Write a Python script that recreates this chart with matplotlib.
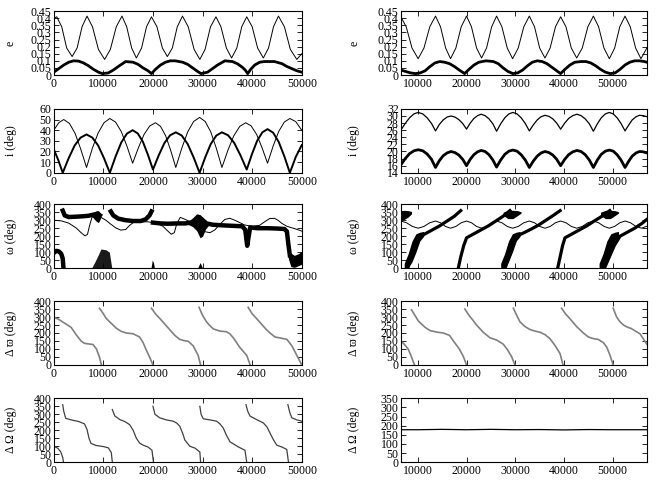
import numpy as np
import matplotlib.pyplot as plt
from matplotlib.ticker import FuncFormatter

nan = np.nan

# ---- row 1 : eccentricity ----
e1_thin_t = [0, 600, 1600, 2600, 3700, 4700, 5700, 6700, 7800, 9000, 10250, 11400, 12600, 13750, 14700,
             15700, 16650, 17700, 18700, 19700, 20800, 21900, 22900, 23900, 24900, 25950, 27100, 28300,
             29450, 30500, 31600, 32700, 33700, 34800, 35850, 36900, 37900, 38900, 40000, 41100, 42250,
             43300, 44300, 45300, 46500, 47700, 49000, 50000]
e1_thin = [0.40, 0.41, 0.34, 0.19, 0.13, 0.19, 0.34, 0.415, 0.34, 0.18, 0.11, 0.18, 0.34, 0.415, 0.34,
           0.19, 0.12, 0.19, 0.34, 0.41, 0.34, 0.19, 0.13, 0.19, 0.34, 0.415, 0.34, 0.18, 0.11, 0.18,
           0.34, 0.41, 0.34, 0.19, 0.12, 0.19, 0.34, 0.41, 0.34, 0.19, 0.12, 0.19, 0.34, 0.415, 0.34,
           0.18, 0.11, 0.15]
e1_thick_t = [0, 1000, 2000, 3000, 4000, 5000, 6000, 7000, 8000, 9000, 9800, 11000, 12000, 13000, 14500,
              16000, 17000, 18000, 19000, 19700, 20500, 21500, 22500, 23500, 24500, 26000, 27000, 28000,
              29000, 29700, 31000, 32000, 33000, 34500, 36000, 37000, 38000, 38600, 39100, 39700, 40500,
              41500, 42500, 44500, 46000, 47000, 48000, 49000, 50000]
e1_thick = [0.02, 0.045, 0.07, 0.09, 0.1, 0.098, 0.085, 0.065, 0.04, 0.02, 0.01, 0.015, 0.035, 0.06, 0.095,
            0.09, 0.075, 0.05, 0.03, 0.01, 0.04, 0.07, 0.09, 0.1, 0.1, 0.09, 0.075, 0.05, 0.025, 0.01,
            0.02, 0.045, 0.07, 0.1, 0.095, 0.08, 0.055, 0.035, 0.01, 0.04, 0.07, 0.09, 0.095, 0.095,
            0.08, 0.06, 0.045, 0.03, 0.02]

e2_thin_t = [6500, 7600, 8800, 10060, 11250, 12450, 13620, 14650, 15700, 16710, 17800, 18900, 19990, 21000,
             22050, 23080, 24100, 25150, 26160, 27250, 28350, 29450, 30600, 31750, 32880, 33950, 35000,
             36090, 37150, 38250, 39310, 40400, 41500, 42600, 43750, 44900, 46030, 47100, 48200, 49310,
             50400, 51450, 52530, 53600, 54700, 55800, 57000]
e2_thin = [0.41, 0.34, 0.19, 0.115, 0.19, 0.34, 0.415, 0.34, 0.19, 0.115, 0.19, 0.34, 0.415, 0.34, 0.19,
           0.12, 0.19, 0.34, 0.415, 0.34, 0.19, 0.115, 0.19, 0.34, 0.415, 0.34, 0.19, 0.12, 0.19, 0.34,
           0.41, 0.34, 0.19, 0.12, 0.19, 0.34, 0.415, 0.34, 0.19, 0.115, 0.19, 0.34, 0.415, 0.34, 0.19,
           0.115, 0.19]
e2_thick_t = [6500, 7500, 8500, 9500, 10500, 11500, 12500, 13500, 14500, 15500, 16500, 17500, 18500, 19600,
              20500, 21500, 22500, 24000, 25500, 26500, 27500, 28500, 29500, 30500, 31500, 32500, 33500,
              34500, 35500, 36500, 37500, 38500, 39300, 40200, 41200, 42200, 43500, 44500, 45500, 46500,
              47500, 48500, 49500, 50500, 51500, 52500, 53500, 54500, 55500, 56500, 57000]
e2_thick = [0.035, 0.025, 0.015, 0.01, 0.015, 0.03, 0.06, 0.085, 0.095, 0.09, 0.08, 0.06, 0.035, 0.01,
            0.04, 0.07, 0.09, 0.1, 0.095, 0.08, 0.05, 0.025, 0.01, 0.015, 0.035, 0.065, 0.09, 0.1, 0.095,
            0.08, 0.055, 0.03, 0.01, 0.04, 0.07, 0.09, 0.095, 0.095, 0.085, 0.065, 0.04, 0.02, 0.01,
            0.015, 0.04, 0.07, 0.09, 0.1, 0.1, 0.095, 0.09]

# ---- row 2 : inclination ----
i1_thin_t = [0, 1000, 2000, 3150, 4300, 5450, 6600, 7775, 8950, 10125, 11300, 12450, 13600, 14750, 15900,
             17050, 18200, 19350, 20500, 21525, 22550, 23575, 24600, 25800, 27000, 28200, 29400, 30525,
             31650, 32775, 33900, 35100, 36300, 37500, 38700, 39800, 40900, 42000, 43100, 44225, 45350,
             46475, 47600, 48800, 50000]
i1_thin = [40, 47, 50, 46.4, 37, 22, 5, 23, 37.5, 47, 51, 47.6, 38.8, 25, 9, 23.4, 36, 44, 47, 43.6, 34.8,
           21, 5, 23, 38.4, 48.2, 52, 48.2, 38.4, 23, 5, 21, 34.8, 43.6, 47, 44, 36, 23.4, 9, 25, 38.8,
           47.6, 51, 48, 40]
i1_thick_t = [0, 900, 1800, 3000, 4200, 5400, 6600, 7775, 8950, 10125, 11300, 12450, 13600, 14750, 15900,
              16925, 17950, 18975, 20000, 21150, 22300, 23450, 24600, 25800, 27000, 28200, 29400, 30525,
              31650, 32775, 33900, 35150, 36400, 37650, 38900, 39950, 41000, 42050, 43100, 44225, 45350,
              46475, 47600, 48800, 50000]
i1_thick = [22, 12, 0, 13.7, 25.6, 33, 36, 33, 25.6, 13.7, 0, 15.2, 28.4, 36.8, 40, 37, 29.3, 17, 3, 16.3,
            27.9, 35.2, 38, 35, 27, 14.4, 0, 14.4, 27, 35, 38, 35.2, 27.9, 16.3, 3, 17.4, 30, 38, 41,
            37.7, 29, 15.6, 0, 15, 26]

i2_t = [6500, 7400, 8300, 9200, 10060, 11000, 11900, 12800, 13620, 14400, 15200, 16000, 16800, 17600, 18400,
        19200, 19990, 20750, 21500, 22250, 23000, 23800, 24600, 25400, 26160, 27000, 27850, 28700, 29500,
        30350, 31200, 32050, 32880, 33700, 34500, 35300, 36100, 36900, 37700, 38500, 39310, 40150, 40950,
        41800, 42650, 43500, 44350, 45200, 46030, 46850, 47650, 48500, 49300, 50100, 50900, 51700, 52530,
        53300, 54000, 54800, 55500, 56300, 57000]
i2_thin = [26, 27.9, 29.5, 30.6, 31, 30.6, 29.5, 27.9, 25.8, 27.6, 28.9, 29.7, 30, 29.7, 29, 27.9, 26.3,
           28, 29.3, 30.1, 30.5, 30.1, 29.2, 27.8, 25.7, 27.8, 29.5, 30.6, 31, 30.6, 29.5, 27.9, 25.8,
           27.5, 28.9, 29.8, 30.2, 29.9, 29.2, 28, 26.3, 28, 29.3, 30.1, 30.5, 30.1, 29.2, 27.8, 25.7,
           27.8, 29.5, 30.6, 31, 30.6, 29.5, 27.9, 25.8, 27.5, 28.9, 29.8, 30.2, 30.1, 29.8]
i2_thick = [16.2, 18, 19.4, 20.2, 20.5, 20.2, 19.3, 17.8, 15.5, 17.4, 18.8, 19.6, 20, 19.7, 19, 17.8, 16,
            17.8, 19.1, 19.9, 20.3, 20, 19.1, 17.6, 15.6, 17.6, 19.2, 20.1, 20.4, 20.1, 19.1, 17.6, 15.5,
            17.3, 18.7, 19.6, 20, 19.7, 19, 17.8, 16, 17.8, 19.1, 19.9, 20.3, 20, 19.1, 17.6, 15.5,
            17.6, 19.2, 20.1, 20.4, 20.1, 19.1, 17.6, 15.5, 17.3, 18.7, 19.6, 20, 19.9, 19.6]

# ---- row 3 : argument of pericentre ----
w1_thin_t = [0, 1500, 3000, 4500, 5500, 6300, 6800, 7200, 7700, 8500, 9500, 10500, 11500, 12500, 13500,
             14500, 15300, 16000, 17000, 19000, 20000, 21000, 22000, 23000, 23700, 24300, 24800, 25500,
             26500, 27500, 28500, 29500, 30500, 31500, 32500, 33500, 34500, 35500, 36500, 37500, 38500,
             40000, 41500, 42500, 43500, 44500, 45200, 46000, 47000, 48500, 50000]
w1_thin = [300, 296, 282, 252, 222, 202, 212, 265, 318, 330, 318, 300, 275, 252, 238, 242, 268, 285, 290,
           290, 285, 278, 262, 232, 212, 222, 278, 318, 305, 290, 272, 250, 228, 222, 240, 275, 305, 312,
           300, 285, 270, 262, 268, 290, 310, 312, 300, 280, 262, 248, 232]
w1_band_t = [0, 500, 1000, 1500, 1800, 1950, nan,
             1800, 2200, 3000, 4500, 6000, 7000, 8000, 8800, 9300, nan,
             11500, 12000, 13000, 14500, 16000, 17500, 18500, 19300, 19700, nan,
             20000, 21500, 23000, 25000, 26500, 27500, 28500, 29300, nan,
             30000, 30800, 32000, 34000, 36000, 38000, 38600, 39000, 39300, 39600,
             41000, 43000, 45000, 46500, 47000, 47300, 47600]
w1_band = [95, 108, 105, 90, 60, 0, nan,
           360, 330, 320, 322, 325, 328, 335, 340, 330, nan,
           355, 330, 310, 300, 295, 295, 305, 330, 355, nan,
           285, 280, 278, 280, 280, 285, 290, 295, nan,
           300, 280, 272, 268, 265, 262, 240, 140, 200, 255,
           250, 250, 248, 245, 230, 150, 80]
w1_cloudA_t, w1_cloudA_lo, w1_cloudA_hi = [7800, 8500, 9000, 9400], [320, 295, 285, 310], [345, 358, 360, 345]
w1_cloudB_t = [7700, 8300, 9000, 9500, 10500, 11200, 11700]
w1_cloudB_hi = [5, 40, 85, 120, 115, 100, 0]
w1_cloudC_t, w1_cloudC_hi = [19600, 19850, 20100, 20300], [0, 50, 35, 0]
w1_cloudD_t = [27000, 28000, 28800, 29500, 30000, 30600, 31200]
w1_cloudD_lo = [275, 260, 235, 190, 200, 245, 268]
w1_cloudD_hi = [290, 315, 340, 335, 320, 300, 282]
w1_cloudE_t, w1_cloudE_hi = [29000, 29500, 30000], [0, 35, 0]
w1_cloudF_t = [47300, 47800, 48500, 49300, 50000]
w1_cloudF_lo = [60, 10, 5, 15, 25]
w1_cloudF_hi = [120, 95, 80, 90, 105]

w2_thin_t = [6500, 7690, 8870, 10060, 11250, 12430, 13620, 14650, 15680, 16710, 17800, 18900, 19990, 21020,
             22050, 23080, 24110, 25130, 26160, 27260, 28350, 29450, 30600, 31740, 32880, 33950, 35020,
             36090, 37160, 38240, 39310, 40410, 41500, 42600, 43740, 44890, 46030, 47120, 48220, 49310,
             50380, 51460, 52530, 53650, 54780, 55900, 57000]
w2_thin = [295, 284, 261, 250, 261, 284, 295, 284, 261, 250, 261, 284, 295, 284, 261, 250, 261, 284, 295,
           284, 261, 250, 261, 284, 295, 284, 261, 250, 261, 284, 295, 284, 261, 250, 261, 284, 295, 284,
           261, 250, 261, 284, 295, 284, 261, 250, 262]
w2_band_t = [7900, 8600, 9300, 10300, 11500, 13000, 14500, 16000, 17500, 18800, nan,
             18300, 18800, 19400, 20000, 21500, 23000, 24500, 26000, 27500, 28900, nan,
             27900, 28700, 29500, 30300, 31800, 33300, 34800, 36300, 37800, 39200, nan,
             38700, 39200, 39700, 40200, 41700, 43200, 44700, 46200, 47800, 49400, nan,
             48300, 49300, 50300, 51500, 53000, 54500, 56000, 57000]
w2_band = [0, 70, 140, 195, 215, 240, 265, 295, 325, 360, nan,
           0, 70, 140, 190, 215, 240, 265, 295, 325, 360, nan,
           0, 70, 140, 200, 222, 245, 270, 300, 330, 360, nan,
           0, 70, 140, 190, 215, 240, 265, 295, 325, 360, nan,
           0, 70, 140, 200, 225, 250, 280, 305]
w2_low_t = [[7200, 8000, 8800, 9600, 10400, 11200],
            [27000, 27800, 28600, 29400, 30200, 31000],
            [47200, 48000, 48800, 49600, 50400, 51200]]
w2_low_lo = [0, 0, 40, 100, 170, 200]
w2_low_hi = [30, 90, 170, 215, 225, 230]
w2_top_t = [[6500, 7200, 8000, 8700],
            [27500, 28500, 29500, 30500, 31200],
            [47500, 48500, 49500, 50500, 51200]]
w2_top_lo = [[300, 305, 320, 340], [330, 310, 310, 330, 345], [330, 310, 310, 330, 345]]
w2_top_hi = [[360, 362, 360, 355], [350, 362, 362, 360, 352], [350, 362, 362, 360, 352]]

# ---- row 4 : delta varpi ----
dp1_t = [0, 1000, 2000, 3500, 4500, 5500, 6200, 7900, 8600, 9200, 9600, nan,
         9200, 10000, 10600, 11600, 12600, 13600, 14600, 16000, 17300, 18000, 18700, 19300, 20000, nan,
         19700, 20500, 21400, 22400, 23400, 24400, 25400, 26300, 27100, 28100, 29100, 29600, nan,
         29300, 30000, 30800, 31500, 32200, 33500, 34800, 35500, 36200, 37500, 38900, 39600, nan,
         39200, 40000, 40900, 41900, 42900, 43800, 44600, 45800, 47000, 48000, 49000, 50000]
dp1 = [300, 285, 265, 235, 190, 150, 135, 128, 100, 50, 0, nan,
       355, 320, 290, 260, 230, 210, 200, 195, 175, 140, 90, 50, 0, nan,
       355, 320, 290, 255, 220, 185, 160, 152, 148, 120, 60, 0, nan,
       360, 310, 270, 245, 225, 212, 208, 195, 170, 110, 60, 0, nan,
       360, 320, 290, 255, 220, 195, 175, 168, 160, 120, 60, 0]
dp2_t = [6500, 7200, 8000, 8700, 9300, nan,
         8700, 9400, 10100, 11500, 12500, 14000, 15200, 16500, 17300, 18500, 19300, 20000, nan,
         19650, 20500, 21300, 22050, 23400, 24800, 26160, 27530, 28400, 29240, 29930, nan,
         29600, 30300, 30950, 32000, 33000, 34000, 35060, 36100, 37100, 38200, 39200, 39800, nan,
         39500, 40300, 41200, 42600, 43970, 45000, 46000, 47000, 48060, 48800, 49450, 50100, nan,
         50100, 50800, 51500, 52200, 52900, 53800, 54500, 55600, 57000]
dp2 = [150, 130, 100, 50, 0, nan,
       345, 310, 275, 235, 215, 205, 200, 185, 150, 100, 55, 0, nan,
       350, 310, 280, 250, 205, 170, 156, 130, 95, 52, 0, nan,
       355, 310, 270, 240, 222, 212, 205, 190, 165, 120, 70, 0, nan,
       355, 320, 290, 240, 200, 175, 165, 160, 140, 110, 60, 0, nan,
       355, 300, 270, 250, 238, 228, 215, 195, 130]

# ---- row 5 : delta Omega ----
dO1_t = [0, 800, 1400, 1800, 1950, nan,
         1800, 2000, 2400, 3500, 5000, 6200, 6700, 7100, 7500, 8500, 10000, 11000, 11600, 11800, nan,
         11800, 12300, 13300, 14300, 15300, 16000, 16650, 17300, 18000, 19000, 19800, 20100, nan,
         20000, 20400, 21370, 22700, 24060, 24800, 25410, 26000, 26420, 27430, 28500, 29450, 29600, nan,
         29450, 29700, 30130, 31500, 32820, 33500, 34170, 34800, 35520, 37200, 38550, 38900, nan,
         38750, 39100, 39560, 41000, 42260, 43000, 43610, 44300, 44960, 46000, 46980, 47320, nan,
         47200, 47600, 48000, 49000, 50000]
dO1 = [100, 88, 65, 30, 0, nan,
       360, 320, 275, 265, 255, 240, 205, 150, 118, 105, 98, 90, 60, 0, nan,
       330, 290, 267, 255, 235, 200, 150, 120, 107, 95, 75, 0, nan,
       350, 300, 278, 265, 257, 245, 225, 180, 139, 100, 88, 64, 0, nan,
       350, 300, 272, 265, 257, 240, 214, 170, 128, 96, 75, 0, nan,
       360, 320, 289, 265, 246, 220, 182, 140, 107, 95, 80, 0, nan,
       360, 310, 278, 265, 257]
dO2_t = [6500, 10000, 15000, 20000, 25000, 30000, 35000, 40000, 45000, 50000, 55000, 57000]
dO2 = [178, 178, 180, 178, 180, 178, 179, 177, 179, 178, 178, 178]

plt.rcParams['font.family'] = ['Liberation Serif', 'DejaVu Serif']

fig = plt.figure(figsize=(6.56, 4.84), dpi=100)
lefts = [0.082, 0.611]
widths = [0.378, 0.375]
bottoms = [0.845, 0.643, 0.446, 0.246, 0.045]
H = 0.132
axes = [[fig.add_axes([lefts[c], bottoms[r], widths[c], H]) for c in range(2)] for r in range(5)]


def frame(ax, col, y0, y1, step, label):
    if col == 0:
        ax.set_xlim(0, 50000)
        ax.set_xticks(range(0, 50001, 10000))
    else:
        ax.set_xlim(6500, 57000)
        ax.set_xticks(range(10000, 50001, 10000))
    ax.set_ylim(y0, y1)
    ax.set_yticks(np.arange(y0, y1 + step / 2, step))
    ax.yaxis.set_major_formatter(FuncFormatter(lambda v, p: '%g' % round(v, 3)))
    ax.tick_params(direction='in', top=True, right=True, length=3.5, width=0.6,
                   labelsize=8.5, pad=2)
    ax.tick_params(axis='y', pad=1.5)
    for s in ax.spines.values():
        s.set_linewidth(0.8)
    ax.set_ylabel(label, fontsize=8.5)
    ax.yaxis.set_label_coords(-0.15 if col == 0 else -0.165, 0.5)


thin = dict(color='black', lw=0.7)
thick = dict(color='black', lw=2.0)

ax = axes[0][0]
ax.plot(e1_thin_t, e1_thin, **thin)
ax.plot(e1_thick_t, e1_thick, **thick)
frame(ax, 0, 0, 0.45, 0.05, 'e')
ax = axes[0][1]
ax.plot(e2_thin_t, e2_thin, **thin)
ax.plot(e2_thick_t, e2_thick, **thick)
frame(ax, 1, 0, 0.45, 0.05, 'e')

ax = axes[1][0]
ax.plot(i1_thin_t, i1_thin, **thin)
ax.plot(i1_thick_t, i1_thick, color='black', lw=1.4)
frame(ax, 0, 0, 60, 10, 'i (deg)')
ax = axes[1][1]
ax.plot(i2_t, i2_thin, color='black', lw=0.9)
ax.plot(i2_t, i2_thick, **thick)
frame(ax, 1, 14, 32, 2, 'i (deg)')

ax = axes[2][0]
ax.plot(w1_thin_t, w1_thin, **thin)
ax.plot(w1_band_t, w1_band, color='black', lw=3.2)
ax.fill_between(w1_cloudA_t, w1_cloudA_lo, w1_cloudA_hi, color='black', lw=0)
ax.fill_between(w1_cloudB_t, 0, w1_cloudB_hi, color='0.1', lw=0)
ax.fill_between(w1_cloudC_t, 0, w1_cloudC_hi, color='black', lw=0)
ax.fill_between(w1_cloudD_t, w1_cloudD_lo, w1_cloudD_hi, color='black', lw=0)
ax.fill_between(w1_cloudE_t, 0, w1_cloudE_hi, color='black', lw=0)
ax.fill_between(w1_cloudF_t, w1_cloudF_lo, w1_cloudF_hi, color='black', lw=0)
frame(ax, 0, 0, 400, 50, 'ω (deg)')
ax = axes[2][1]
ax.plot(w2_thin_t, w2_thin, **thin)
ax.plot(w2_band_t, w2_band, color='black', lw=2.3)
for t in w2_low_t:
    ax.fill_between(t, w2_low_lo, w2_low_hi, color='black', lw=0)
for t, lo, hi in zip(w2_top_t, w2_top_lo, w2_top_hi):
    ax.fill_between(t, lo, hi, color='black', lw=0)
frame(ax, 1, 0, 400, 50, 'ω (deg)')

ax = axes[3][0]
ax.plot(dp1_t, dp1, color='0.5', lw=1.2)
frame(ax, 0, 0, 400, 50, 'Δ ϖ (deg)')
ax = axes[3][1]
ax.plot(dp2_t, dp2, color='0.5', lw=1.2)
frame(ax, 1, 0, 400, 50, 'Δ ϖ (deg)')

ax = axes[4][0]
ax.plot(dO1_t, dO1, color='0.25', lw=0.9)
frame(ax, 0, 0, 400, 50, 'Δ Ω (deg)')
ax = axes[4][1]
ax.plot(dO2_t, dO2, color='black', lw=0.9)
frame(ax, 1, 0, 350, 50, 'Δ Ω (deg)')

fig.savefig('out.png', dpi=100)
